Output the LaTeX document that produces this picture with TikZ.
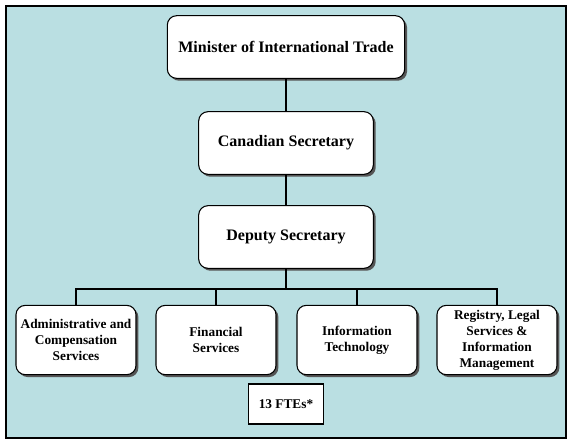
\documentclass[tikz,border=0pt]{standalone}
\usepackage{fontspec}
\setmainfont{Liberation Serif}
\usetikzlibrary{shadows}
\definecolor{fond}{RGB}{186,223,226}
\definecolor{ombre}{RGB}{85,85,85}

\begin{document}
\begin{tikzpicture}[x=0.75pt, y=-0.75pt,
  boite/.style={draw, line width=0.8pt, fill=white, rounded corners=7pt, align=center,
    drop shadow={shadow xshift=1.8pt, shadow yshift=-1.8pt, fill=ombre, opacity=1}},
  grande/.style={boite, minimum width=131pt, minimum height=47pt, font=\fontsize{12}{14}\selectfont\bfseries},
  petite/.style={boite, minimum width=90pt, minimum height=52pt, font=\fontsize{10}{12}\selectfont\bfseries},
  lien/.style={line width=2.2pt}]

% Cadre
\useasboundingbox (0,0) rectangle (579,444);
\draw[fill=fond, line width=0.8pt] (6,6) rectangle (566,438);

% Boites du haut
\node[grande, minimum width=178pt] (ministre) at (286,47) {Minister of International Trade};
\node[grande] (canadien) at (286,143) {Canadian Secretary};
\node[grande] (adjoint) at (286,237) {Deputy Secretary};

% Boites du bas
\node[petite] (admin) at (76,340) {Administrative and\\Compensation\\Services};
\node[petite] (finance) at (216,340) {Financial\\Services};
\node[petite] (info) at (357,340) {Information\\Technology};
\node[petite] (registre) at (497,340) {Registry, Legal\\Services \&\\Information\\Management};

% Effectifs
\node[draw, line width=0.8pt, fill=white, minimum width=56pt, minimum height=30pt,
  font=\fontsize{10}{12}\selectfont\bfseries] (etp) at (286,404) {13 FTEs*};

% Liens
\coordinate (barre) at (286,289);
\draw[lien] (ministre) -- (canadien);
\draw[lien] (canadien) -- (adjoint);
\draw[lien] (adjoint) -- (barre);
\draw[lien] (admin.north) |- (barre) -| (registre.north);
\draw[lien] (finance.north) -- (finance.north |- barre);
\draw[lien] (info.north) -- (info.north |- barre);
\end{tikzpicture}
\end{document}
